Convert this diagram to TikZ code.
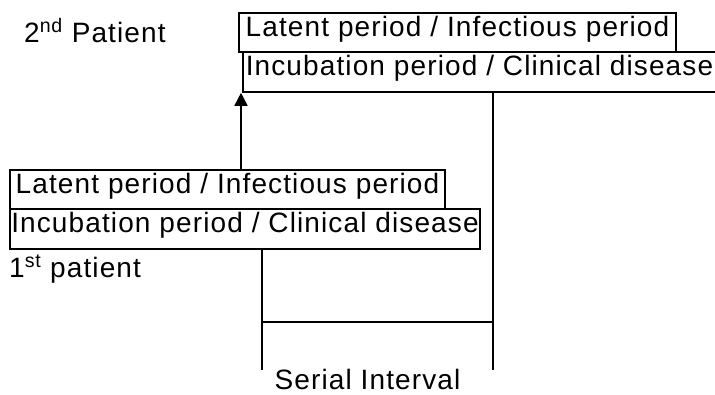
\documentclass[tikz,border=0pt]{standalone}
\usepackage{fontspec}
\setmainfont{Liberation Sans}[LetterSpace=4]
\usetikzlibrary{arrows.meta}
\begin{document}
\begin{tikzpicture}[x=1pt,y=-1pt,
  every node/.style={font=\fontsize{28}{33}\selectfont, inner sep=0pt},
  period/.style={draw, line width=1.6pt, text height=0.72em, text depth=0pt},
  link/.style={line width=1.6pt},
  tip/.style={-{Triangle[length=13pt,width=13pt]}}]
\useasboundingbox (0,0) rectangle (715,394);

% second patient
\node[anchor=base west] (p2) at (24,42) {2\textsuperscript{nd} Patient};
\node[period, minimum width=437pt, minimum height=39pt] (lat2) at (457.5,32.5)
  {Latent period / Infectious period};
\node[period, minimum width=473pt, minimum height=40pt] (inc2) at (479.5,72)
  {Incubation period / Clinical disease};

% first patient
\node[period, minimum width=435pt, minimum height=39pt] (lat1) at (227.5,189.5)
  {Latent period / Infectious period};
\node[period, minimum width=470pt, minimum height=40pt] (inc1) at (245,229)
  {Incubation period / Clinical disease};
\node[anchor=base west] (p1) at (9,277) {1\textsuperscript{st} patient};

% transmission arrow
\draw[link, tip] (lat1.north -| 241,0) -- (inc2.south -| 241,0);

% serial interval bracket
\coordinate (sl) at (262,370);
\coordinate (sr) at (493,370);
\draw[link] (inc1.south -| sl) -- (sl);
\draw[link] (inc2.south -| sr) -- (sr);
\draw[link] (262,322) -- (493,322);
\node[anchor=base] (si) at (367.5,389) {Serial Interval};
\end{tikzpicture}
\end{document}
